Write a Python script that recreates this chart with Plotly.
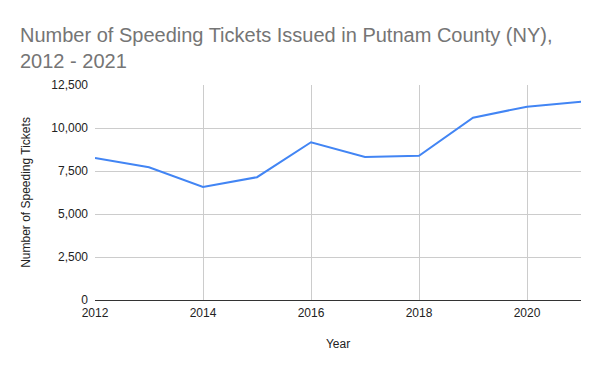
import plotly.graph_objects as go

years = [2012, 2013, 2014, 2015, 2016, 2017, 2018, 2019, 2020, 2021]
tickets = [8260, 7720, 6570, 7140, 9170, 8320, 8380, 10600, 11240, 11520]

y_ticks = [0, 2500, 5000, 7500, 10000, 12500]
x_ticks = [2012, 2014, 2016, 2018, 2020]

# page body has an 8px margin; compensate so the plot lands where the reference does
OFF = 8

fig = go.Figure()
fig.add_trace(go.Scatter(
    x=years, y=tickets, mode="lines",
    line=dict(color="#4285F4", width=2),
    hoverinfo="x+y",
))

fig.update_layout(
    width=600, height=371,
    paper_bgcolor="white", plot_bgcolor="white",
    margin=dict(l=95 - OFF, r=19 + OFF, t=85 - OFF, b=71 + OFF),
    font=dict(family="Liberation Sans, Arial, sans-serif", size=12, color="#222222"),
    title=dict(
        text="Number of Speeding Tickets Issued in Putnam County (NY),<br>2012 - 2021",
        font=dict(family="Liberation Sans, Arial, sans-serif", size=20, color="#757575"),
        xref="container", yref="container",
        x=(20 - OFF)/600, xanchor="left",
        y=1 - 34/371, yanchor="top",
    ),
    showlegend=False,
)

fig.update_xaxes(
    range=[2012, 2021],
    tickvals=x_ticks,
    ticktext=[str(v) for v in x_ticks],
    showgrid=True, gridcolor="#cccccc", gridwidth=1,
    zeroline=False,
    showline=False,
    ticks="", ticklabelstandoff=4,
    title=dict(text="Year", font=dict(size=12, color="#222222"), standoff=20),
)

fig.update_yaxes(
    range=[0, 12500],
    tickvals=y_ticks,
    tickformat=",",
    showgrid=True, gridcolor="#cccccc", gridwidth=1,
    zeroline=True, zerolinecolor="#333333", zerolinewidth=1,
    showline=False,
    ticks="", ticklabelstandoff=6,
    title=dict(text="Number of Speeding Tickets", font=dict(size=12, color="#222222"), standoff=18),
)

fig.write_html("out.html")
